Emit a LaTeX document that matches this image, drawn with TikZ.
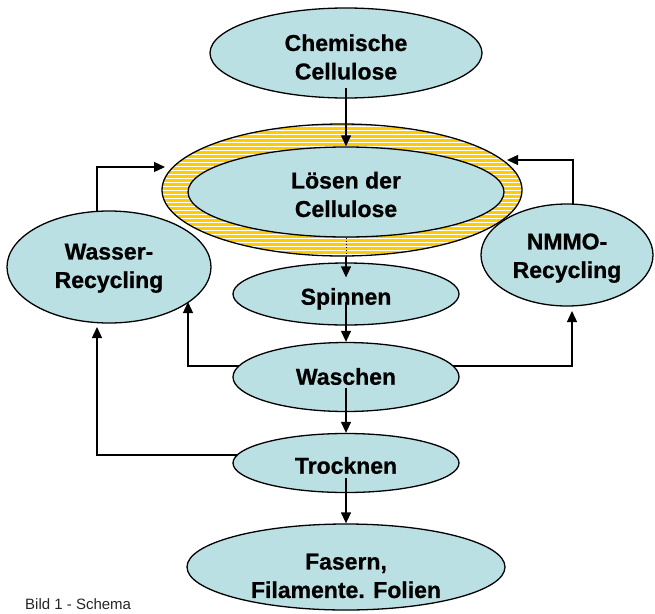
\documentclass[tikz,border=0pt]{standalone}
\usepackage{fontspec}
\setmainfont{Liberation Sans}[BoldFeatures={FakeBold=0.8}]
\usetikzlibrary{shapes.geometric,arrows.meta,calc}
\pgfdeclarelayer{back}
\pgfdeclarelayer{bg}
\pgfsetlayers{back,bg,main}
\definecolor{lblue}{RGB}{187,224,227}
\definecolor{yel}{RGB}{255,204,0}
\newcommand{\lab}[2]{\raisebox{#1}[0pt][0pt]{\begin{tabular}{@{}c@{}}#2\end{tabular}}}
\begin{document}
\begin{tikzpicture}[x=1pt,y=-1pt,
  proc/.style={ellipse, draw=black, line width=1.3pt, fill=lblue, inner sep=0pt,
    font=\fontsize{23}{28.5}\selectfont\bfseries},
  arr/.style={line width=1.3pt, -{Triangle[length=11pt,width=10pt]}},
  hatchring/.style={ellipse, draw=black, line width=1.3pt, fill=yel, inner sep=0pt,
    path picture={\foreach \k in {-18,...,18}
      \draw[white,line width=0.6pt] ($(path picture bounding box.center)+(-200,4*\k)$) -- ++(400,0);}}]
\useasboundingbox (0,0) rectangle (655,613);
\begin{pgfonlayer}{back}
  \fill[white] (0,0) rectangle (655,613);
\end{pgfonlayer}

\node[proc, minimum width=272pt, minimum height=90pt] (chem) at (346,53) {\lab{-12.75pt}{Chemische\\Cellulose}};
\node[hatchring, minimum width=360pt, minimum height=132pt] (outer) at (342,190) {};
\node[proc, minimum width=316pt, minimum height=90pt] (loesen) at (346,192) {\lab{-11.25pt}{Lösen der\\Cellulose}};
\node[proc, minimum width=226pt, minimum height=62pt] (spin) at (346,294) {\lab{-11.25pt}{Spinnen}};
\node[proc, minimum width=226pt, minimum height=69pt] (wasch) at (346,377) {\lab{-8.25pt}{Waschen}};
\node[proc, minimum width=226pt, minimum height=59pt] (trock) at (346,463) {\lab{-11.25pt}{Trocknen}};
\node[proc, minimum width=318pt, minimum height=86pt] (fasern) at (346,567) {\lab{-17.25pt}{Fasern,\\Filamente. Folien}};
\node[proc, minimum width=204pt, minimum height=112pt] (wasser) at (109,267) {\lab{-7.25pt}{Wasser-\\Recycling}};
\node[proc, minimum width=172pt, minimum height=102pt] (nmmo) at (567,255) {\lab{-9.25pt}{NMMO-\\Recycling}};
\node[anchor=base west, font=\fontsize{15}{18}\selectfont, text=black!85, inner sep=0pt] (cap) at (25,609) {Bild 1 - Schema};

\begin{pgfonlayer}{bg}
  \draw[arr] ($(wasser.center)+(-12,0)$) |- ($(outer.center)+(-177,-23)$);
  \draw[arr] ($(nmmo.center)+(6,0)$) |- ($(outer.center)+(165,-30)$);
  \draw[arr] ($(wasch.center)+(0,-11)$) -| ($(wasser.center)+(79,35)$);
  \draw[arr] ($(wasch.center)+(0,-11)$) -| ($(nmmo.center)+(5,56)$);
  \draw[arr] ($(trock.center)+(0,-8)$) -| ($(wasser.center)+(-12,60)$);
\end{pgfonlayer}

\draw[arr] ($(chem.center)+(0,35)$) -- (loesen.north);
\draw[line width=1pt, dotted] (loesen.south) -- (loesen.south |- outer.south);
\draw[arr] (loesen.south |- outer.south) -- ($(spin.north)+(0,15)$);
\draw[arr] ($(spin.center)+(0,8)$) -- (wasch.north);
\draw[arr] ($(wasch.center)+(0,11)$) -- (trock.north);
\draw[arr] ($(trock.center)+(0,15)$) -- (fasern.north);
\end{tikzpicture}
\end{document}
